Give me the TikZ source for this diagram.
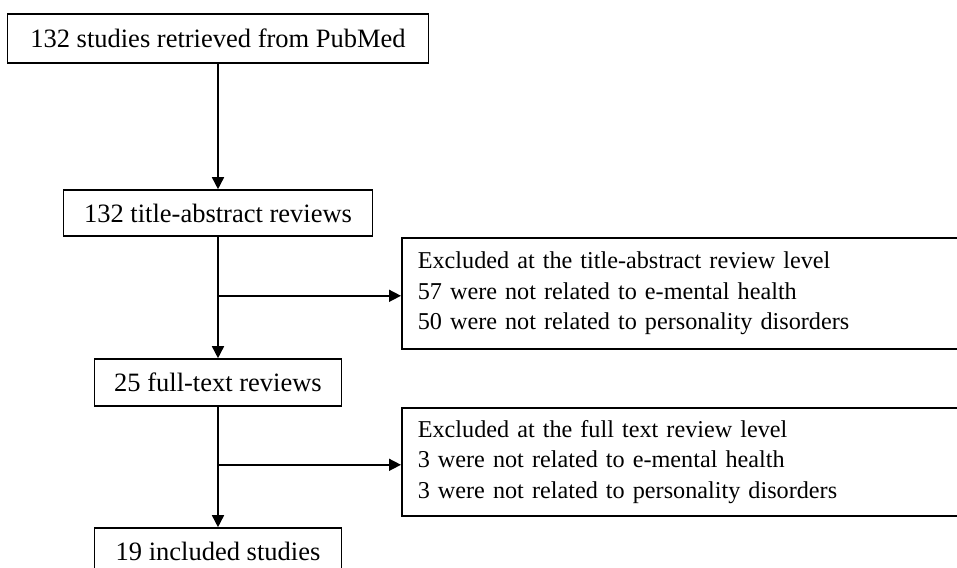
\documentclass[tikz,border=0pt]{standalone}
\usepackage{fontspec}
\setmainfont{Liberation Serif}
\usetikzlibrary{positioning,arrows.meta}

\begin{document}
\begin{tikzpicture}[x=1pt,y=-1pt,
        stagebox/.style={draw,line width=1.6pt,inner sep=0pt,font=\fontsize{26.5}{30.5}\selectfont},
        exclbox/.style={stagebox,anchor=west,align=left,text width=527pt,inner xsep=16pt,minimum width=559pt,font=\fontsize{24.2}{30.5}\selectfont},
        flow/.style={line width=1.6pt,-{Triangle[length=12pt,width=12pt]}}]
        \useasboundingbox (0,0) rectangle (957,567);
        \node[stagebox,minimum width=421pt,minimum height=49pt] (pubmed) at (218,38.5) {132 studies retrieved from PubMed};
        \node[stagebox,minimum width=309pt,minimum height=46pt] (titleabs) at (218,213) {132 title-abstract reviews};
        \node[stagebox,minimum width=247pt,minimum height=47pt] (fulltext) at (218,382.5) {25 full-text reviews};
        \node[stagebox,minimum width=247pt,minimum height=47pt] (included) at (218,551.5) {19 included studies};
        \node[exclbox,minimum height=111pt] (exclta) at (401,293.5) {Excluded at the title-abstract review level\\57 were not related to e-mental health\\50 were not related to personality disorders};
        \node[exclbox,minimum height=108pt] (exclft) at (401,462) {Excluded at the full text review level\\3 were not related to e-mental health\\3 were not related to personality disorders};
        \coordinate [below = 59pt of titleabs] (split_ta);
        \coordinate [below = 58pt of fulltext] (split_ft);
        \draw [flow] (pubmed) -- (titleabs);
        \draw [flow] (titleabs) -- (fulltext);
        \draw [flow] (fulltext) -- (included);
        \draw [flow] (split_ta) -- (split_ta -| exclta.west);
        \draw [flow] (split_ft) -- (split_ft -| exclft.west);
    \end{tikzpicture}
\end{document}
